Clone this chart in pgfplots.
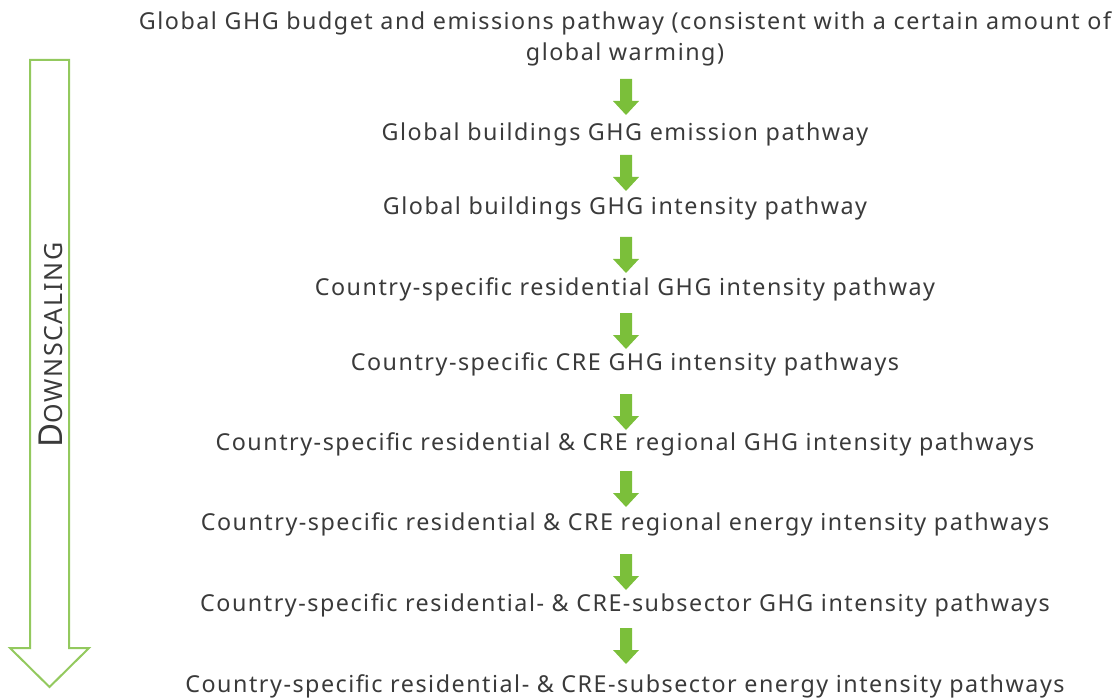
\documentclass[border=0pt]{standalone}
\usepackage{pgfplots}
\pgfplotsset{compat=1.18}
\usepackage{fontspec}
\setmainfont{Noto Sans}[LetterSpace=6.5]
\definecolor{arrowgreen}{HTML}{7BBF3A}
\definecolor{outlinegreen}{HTML}{93C95E}
\definecolor{txt}{HTML}{3A3A3A}
\tikzset{steptext/.style={text=txt, font=\fontsize{23.3}{27}\selectfont, inner sep=0pt, anchor=base}}
\begin{document}
\begin{tikzpicture}
\begin{axis}[
  scale only axis, width=1115pt, height=700pt,
  xmin=0, xmax=1115, ymin=0, ymax=700, y dir=reverse,
  hide axis, clip=false,
]
% hollow DOWNSCALING arrow
\addplot[draw=outlinegreen, line width=2pt, fill=white, line join=miter]
  coordinates {(30,60) (69,60) (69,648) (89,648) (49.5,687) (10,648) (30,648)} -- cycle;
% green step arrows
\addplot[fill=arrowgreen, draw=none] coordinates {(620,79) (632,79) (632,101) (639,101) (626,115) (613,101) (620,101)} -- cycle;
\addplot[fill=arrowgreen, draw=none] coordinates {(620,155) (632,155) (632,177) (639,177) (626,191) (613,177) (620,177)} -- cycle;
\addplot[fill=arrowgreen, draw=none] coordinates {(620,237) (632,237) (632,259) (639,259) (626,273) (613,259) (620,259)} -- cycle;
\addplot[fill=arrowgreen, draw=none] coordinates {(620,313) (632,313) (632,335) (639,335) (626,349) (613,335) (620,335)} -- cycle;
\addplot[fill=arrowgreen, draw=none] coordinates {(620,394) (632,394) (632,416) (639,416) (626,430) (613,416) (620,416)} -- cycle;
\addplot[fill=arrowgreen, draw=none] coordinates {(620,471) (632,471) (632,493) (639,493) (626,507) (613,493) (620,493)} -- cycle;
\addplot[fill=arrowgreen, draw=none] coordinates {(620,554) (632,554) (632,576) (639,576) (626,590) (613,576) (620,576)} -- cycle;
\addplot[fill=arrowgreen, draw=none] coordinates {(620,628) (632,628) (632,650) (639,650) (626,664) (613,650) (620,650)} -- cycle;

\node[steptext] at (axis cs:625,30) {Global GHG budget and emissions pathway (consistent with a certain amount of};
\node[steptext] at (axis cs:625,61) {global warming)};
\node[steptext] at (axis cs:625,141) {Global buildings GHG emission pathway};
\node[steptext] at (axis cs:625,215) {Global buildings GHG intensity pathway};
\node[steptext] at (axis cs:625,295) {Country-specific residential GHG intensity pathway};
\node[steptext] at (axis cs:625,370) {Country-specific CRE GHG intensity pathways};
\node[steptext] at (axis cs:625,450) {Country-specific residential \& CRE regional GHG intensity pathways};
\node[steptext] at (axis cs:625,530) {Country-specific residential \& CRE regional energy intensity pathways};
\node[steptext] at (axis cs:625,611) {Country-specific residential- \& CRE-subsector GHG intensity pathways};
\node[steptext] at (axis cs:625,692) {Country-specific residential- \& CRE-subsector energy intensity pathways};

\node[text=txt, rotate=90, anchor=base, inner sep=0pt] at (axis cs:62,345)
  {\fontsize{33}{33}\selectfont D\fontsize{25}{25}\selectfont OWNSCALING};
\end{axis}
\pgfresetboundingbox
\path (current axis.south west) rectangle (current axis.north east);
\end{tikzpicture}
\end{document}
